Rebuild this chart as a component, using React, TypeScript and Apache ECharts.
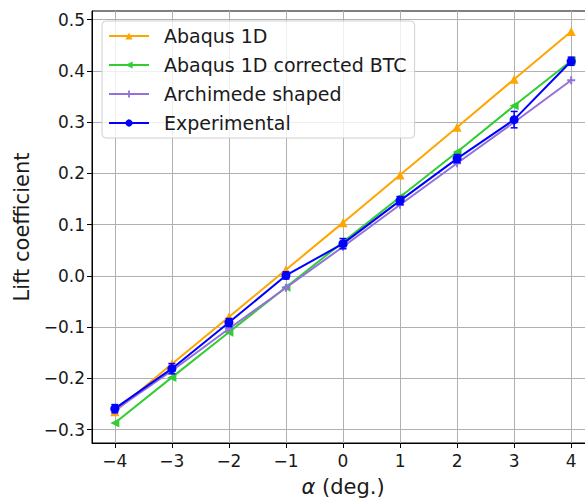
import React, { useEffect, useRef } from "react";
import * as echarts from "echarts";

const alpha = [-4, -3, -2, -1, 0, 1, 2, 3, 4];
const abaqus1D = [-0.265, -0.172, -0.08, 0.012, 0.104, 0.197, 0.29, 0.384, 0.477];
const abaqusCorrected = [-0.287, -0.198, -0.11, -0.022, 0.066, 0.154, 0.242, 0.332, 0.42];
const archimede = [-0.262, -0.185, -0.103, -0.023, 0.057, 0.139, 0.22, 0.3, 0.382];
const experimental = [-0.259, -0.181, -0.091, 0.001, 0.063, 0.147, 0.229, 0.305, 0.419];
const expError = [0.008, 0.01, 0.008, 0.007, 0.01, 0.008, 0.008, 0.016, 0.008];
const xTicks = [-4, -3, -2, -1, 0, 1, 2, 3, 4];
const yTicks = [-0.3, -0.2, -0.1, 0.0, 0.1, 0.2, 0.3, 0.4, 0.5];

const FONT = "DejaVu Sans";
const minus = (s: string) => s.replace("-", "\u2212");

export default function App() {
  const ref = useRef<HTMLDivElement>(null);
  useEffect(() => {
    if (!ref.current) return;
    const chart = echarts.init(ref.current, undefined, { renderer: "svg" });
    const pair = (ys: number[]) => alpha.map((a, i) => [a, ys[i]]);
    chart.setOption({
      animation: false,
      backgroundColor: "#ffffff",
      grid: {
        left: 92,
        top: 11,
        right: 6,
        bottom: 53,
        containLabel: false,
        show: true,
        borderColor: "#000",
        borderWidth: 1,
        backgroundColor: "transparent",
      },
      legend: {
        left: 102,
        top: 21,
        orient: "vertical",
        data: ["Abaqus 1D", "Abaqus 1D corrected BTC", "Archimede shaped", "Experimental"],
        itemWidth: 40,
        itemHeight: 9,
        itemGap: 9,
        padding: [5, 8, 5, 6],
        backgroundColor: "rgba(255,255,255,0.8)",
        borderColor: "#d0d0d0",
        borderWidth: 1,
        borderRadius: 4,
        textStyle: {
          fontFamily: FONT,
          fontSize: 19,
          lineHeight: 20,
          color: "#1a1a1a",
          padding: [0, 0, 0, 10],
        },
      },
      xAxis: {
        type: "value",
        min: -4.4,
        max: 4.4,
        axisLine: { show: true, onZero: false, lineStyle: { color: "#000", width: 1 } },
        axisTick: { show: true, length: 5, customValues: xTicks, lineStyle: { color: "#000" } },
        axisLabel: {
          customValues: xTicks,
          formatter: (v: number) => minus(String(v)),
          fontFamily: FONT,
          fontSize: 17,
          color: "#1a1a1a",
          margin: 9,
        },
        splitLine: { show: true, lineStyle: { color: "#b0b0b0", width: 1 } },
        name: "{i|\u03b1} (deg.)",
        nameLocation: "middle",
        nameGap: 33,
        nameTextStyle: {
          fontFamily: FONT,
          fontSize: 21,
          color: "#1a1a1a",
          rich: { i: { fontFamily: FONT, fontSize: 21, fontStyle: "italic", color: "#1a1a1a" } },
        },
      },
      yAxis: {
        type: "value",
        min: -0.326,
        max: 0.517,
        axisLine: { show: true, onZero: false, lineStyle: { color: "#000", width: 1 } },
        axisTick: { show: true, length: 5, customValues: yTicks, lineStyle: { color: "#000" } },
        axisLabel: {
          customValues: yTicks,
          formatter: (v: number) => minus(v.toFixed(1)),
          fontFamily: FONT,
          fontSize: 17,
          color: "#1a1a1a",
          margin: 7,
        },
        splitLine: { show: true, lineStyle: { color: "#b0b0b0", width: 1 } },
        name: "Lift coefficient",
        nameLocation: "middle",
        nameRotate: 90,
        nameGap: 56,
        nameTextStyle: { fontFamily: FONT, fontSize: 21, color: "#1a1a1a" },
      },
      series: [
        {
          name: "Abaqus 1D",
          type: "line",
          data: pair(abaqus1D),
          symbol: "triangle",
          symbolSize: 9,
          lineStyle: { color: "#ffa500", width: 2 },
          itemStyle: { color: "#ffa500" },
          z: 2,
        },
        {
          name: "Abaqus 1D corrected BTC",
          type: "line",
          data: pair(abaqusCorrected),
          symbol: "path://M0,5L9,0L9,10Z",
          symbolSize: 9,
          lineStyle: { color: "#32cd32", width: 2 },
          itemStyle: { color: "#32cd32" },
          z: 3,
        },
        {
          name: "Archimede shaped",
          type: "line",
          data: pair(archimede),
          symbol: "path://M3,0H5V3H8V5H5V8H3V5H0V3H3Z",
          symbolSize: 8,
          lineStyle: { color: "#9370db", width: 2 },
          itemStyle: { color: "#9370db" },
          z: 4,
        },
        {
          name: "Experimental error",
          type: "custom",
          data: alpha.map((a, i) => [a, experimental[i] - expError[i], experimental[i] + expError[i]]),
          renderItem: (params: any, api: any) => {
            const x = api.value(0);
            const p1 = api.coord([x, api.value(1)]);
            const p2 = api.coord([x, api.value(2)]);
            const w = 3.5;
            const st = { stroke: "#0000ff", lineWidth: 1.5 };
            return {
              type: "group",
              children: [
                { type: "line", shape: { x1: p1[0], y1: p1[1], x2: p2[0], y2: p2[1] }, style: st },
                { type: "line", shape: { x1: p1[0] - w, y1: p1[1], x2: p1[0] + w, y2: p1[1] }, style: st },
                { type: "line", shape: { x1: p2[0] - w, y1: p2[1], x2: p2[0] + w, y2: p2[1] }, style: st },
              ],
            };
          },
          z: 5,
        },
        {
          name: "Experimental",
          type: "line",
          data: pair(experimental),
          symbol: "circle",
          symbolSize: 9,
          lineStyle: { color: "#0000ff", width: 2 },
          itemStyle: { color: "#0000ff" },
          z: 6,
        },
      ],
    });
    return () => chart.dispose();
  }, []);
  return (
    <div style={{ position: "absolute", left: 0, top: 0, width: 585, height: 502, overflow: "hidden" }}>
      <div ref={ref} style={{ width: 600, height: 502 }} />
    </div>
  );
}
